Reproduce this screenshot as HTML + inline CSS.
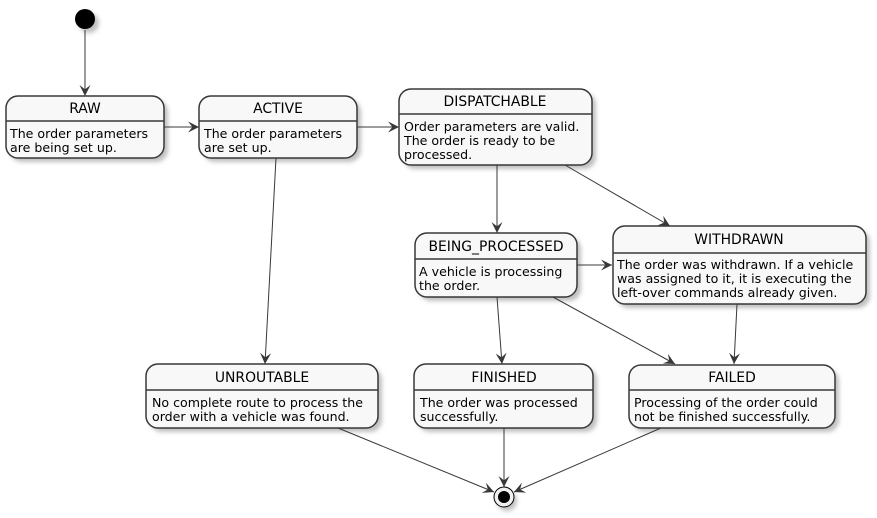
<!DOCTYPE html>
<html><head><meta charset="utf-8"><style>
html,body{margin:0;padding:0;background:#fff;}
svg{display:block;}
.t{font-family:"DejaVu Sans","Liberation Sans",sans-serif;font-size:13.9px;fill:#000;}
.b{font-family:"DejaVu Sans","Liberation Sans",sans-serif;font-size:12.6px;fill:#000;}
.box{fill:#F8F8F8;stroke:#383838;stroke-width:1.5;}
.sh{fill:#c0c0c0;}
.e{stroke:#383838;stroke-width:1;fill:none;marker-end:url(#a);}
.d{stroke:#383838;stroke-width:1.5;}
</style></head><body>
<svg width="877" height="518" viewBox="0 0 877 518" xmlns="http://www.w3.org/2000/svg">
<defs>
<filter id="f" x="-10%" y="-10%" width="130%" height="140%"><feGaussianBlur stdDeviation="2"/></filter>
<marker id="a" viewBox="0 0 10 10" refX="10" refY="5" markerWidth="11" markerHeight="11" markerUnits="userSpaceOnUse" orient="auto">
<path d="M0,0 L10,5 L0,10 L4,5 Z" fill="#383838"/></marker>
</defs>

<g class="sh" filter="url(#f)">
<circle cx="89" cy="23" r="10"/>
<rect x="10" y="100" width="158" height="62" rx="12"/>
<rect x="203" y="100" width="158" height="62" rx="12"/>
<rect x="403" y="93" width="193" height="76" rx="12"/>
<rect x="419" y="237" width="162" height="64" rx="12"/>
<rect x="617" y="230" width="253" height="78" rx="12"/>
<rect x="150" y="368" width="232" height="64" rx="12"/>
<rect x="418" y="368" width="179" height="64" rx="12"/>
<rect x="633" y="369" width="206" height="63" rx="12"/>
<circle cx="507" cy="501" r="10"/>
</g>

<circle cx="85" cy="19" r="10" fill="#000"/>

<line class="e" x1="85" y1="30" x2="85" y2="96"/>
<line class="e" x1="164" y1="127" x2="199" y2="127"/>
<line class="e" x1="357" y1="127" x2="399" y2="127"/>
<line class="e" x1="276" y1="158" x2="265" y2="364"/>
<line class="e" x1="497" y1="165" x2="497" y2="233"/>
<line class="e" x1="565" y1="165" x2="670" y2="226"/>
<line class="e" x1="577" y1="265" x2="612" y2="265"/>
<line class="e" x1="497" y1="297" x2="502" y2="364"/>
<line class="e" x1="553" y1="297" x2="675" y2="364"/>
<line class="e" x1="737" y1="304" x2="734" y2="364"/>
<line class="e" x1="338" y1="428" x2="494" y2="492"/>
<line class="e" x1="504" y1="428" x2="504" y2="487"/>
<line class="e" x1="661" y1="428" x2="514" y2="492"/>

<rect class="box" x="6" y="96" width="158" height="62" rx="12"/>
<line class="d" x1="6" y1="121" x2="164" y2="121"/>
<text class="t" x="85" y="113" text-anchor="middle">RAW</text>
<text class="b" x="10" y="138">The order parameters</text>
<text class="b" x="10" y="152">are being set up.</text>

<rect class="box" x="199" y="96" width="158" height="62" rx="12"/>
<line class="d" x1="199" y1="121" x2="357" y2="121"/>
<text class="t" x="278" y="113" text-anchor="middle">ACTIVE</text>
<text class="b" x="204" y="138">The order parameters</text>
<text class="b" x="204" y="152">are set up.</text>

<rect class="box" x="399" y="89" width="193" height="76" rx="12"/>
<line class="d" x1="399" y1="114" x2="592" y2="114"/>
<text class="t" x="495" y="106" text-anchor="middle">DISPATCHABLE</text>
<text class="b" x="404" y="131">Order parameters are valid.</text>
<text class="b" x="404" y="145">The order is ready to be</text>
<text class="b" x="404" y="159">processed.</text>

<rect class="box" x="415" y="233" width="162" height="64" rx="12"/>
<line class="d" x1="415" y1="259" x2="577" y2="259"/>
<text class="t" x="496" y="251" text-anchor="middle">BEING_PROCESSED</text>
<text class="b" x="419" y="276">A vehicle is processing</text>
<text class="b" x="419" y="290">the order.</text>

<rect class="box" x="613" y="226" width="253" height="78" rx="12"/>
<line class="d" x1="613" y1="253" x2="866" y2="253"/>
<text class="t" x="739" y="244" text-anchor="middle">WITHDRAWN</text>
<text class="b" x="617" y="269">The order was withdrawn. If a vehicle</text>
<text class="b" x="617" y="283">was assigned to it, it is executing the</text>
<text class="b" x="617" y="297">left-over commands already given.</text>

<rect class="box" x="146" y="364" width="232" height="64" rx="12"/>
<line class="d" x1="146" y1="390" x2="378" y2="390"/>
<text class="t" x="262" y="382" text-anchor="middle">UNROUTABLE</text>
<text class="b" x="152" y="407">No complete route to process the</text>
<text class="b" x="152" y="421">order with a vehicle was found.</text>

<rect class="box" x="414" y="364" width="179" height="64" rx="12"/>
<line class="d" x1="414" y1="390" x2="593" y2="390"/>
<text class="t" x="504" y="382" text-anchor="middle">FINISHED</text>
<text class="b" x="420" y="407">The order was processed</text>
<text class="b" x="420" y="421">successfully.</text>

<rect class="box" x="629" y="365" width="206" height="63" rx="12"/>
<line class="d" x1="629" y1="390" x2="835" y2="390"/>
<text class="t" x="732" y="382" text-anchor="middle">FAILED</text>
<text class="b" x="634" y="407">Processing of the order could</text>
<text class="b" x="634" y="421">not be finished successfully.</text>

<circle cx="504" cy="497" r="10" fill="#f0f0f0" stroke="#000" stroke-width="1"/>
<circle cx="504" cy="497" r="6" fill="#000"/>
</svg>
</body></html>
